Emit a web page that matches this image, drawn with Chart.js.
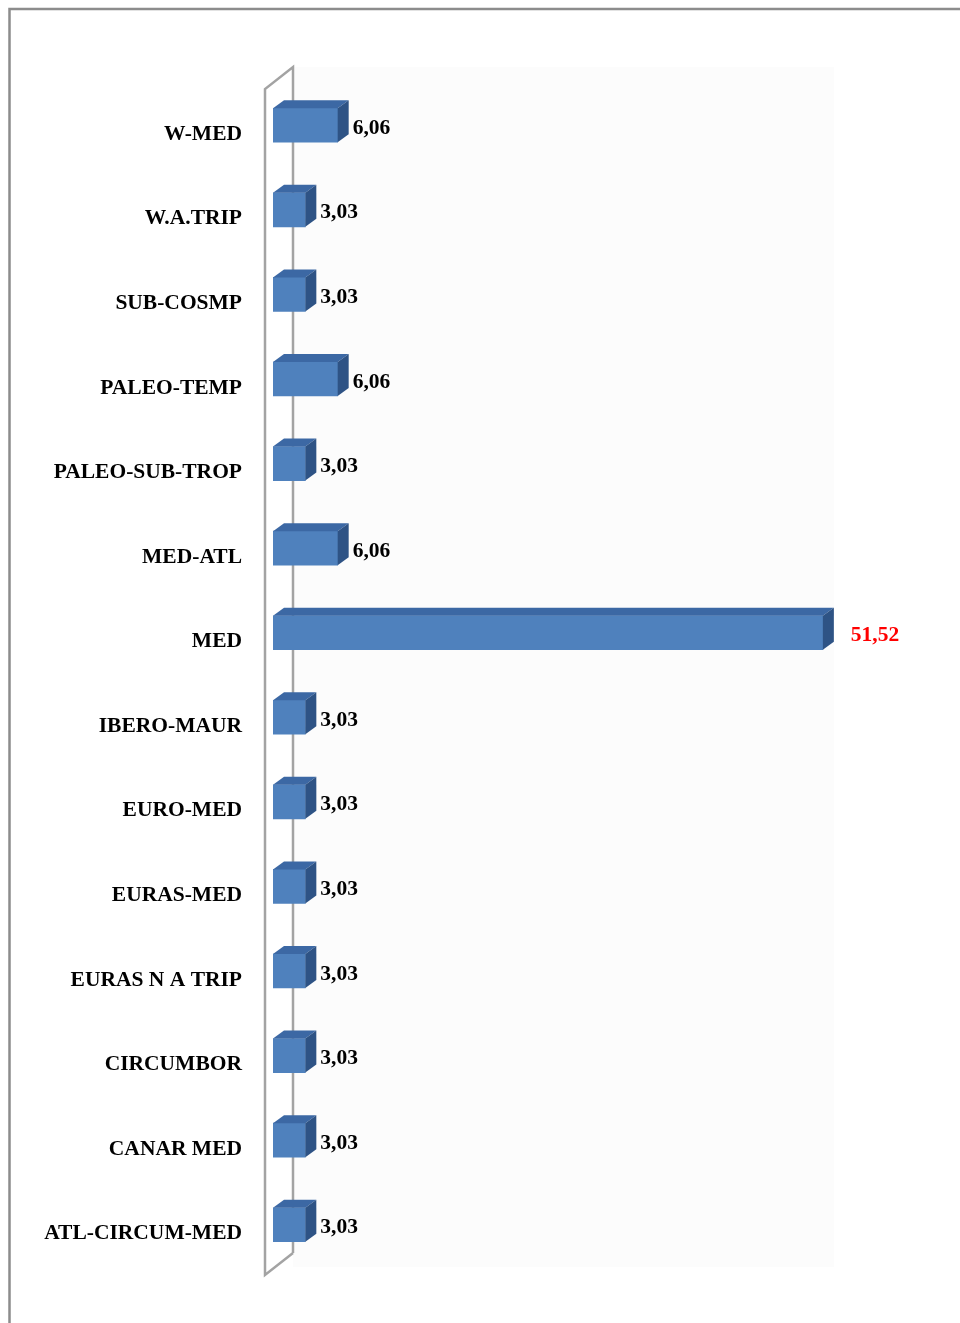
<!DOCTYPE html>
<html>
<head>
<meta charset="utf-8">
<script src="https://cdn.jsdelivr.net/npm/chart.js@4.4.1/dist/chart.umd.min.js"></script>
<style>
  html, body { margin: 0; padding: 0; background: #fff; }
  #wrap { width: 960px; height: 1323px; position: relative; }
</style>
</head>
<body>
<div id="wrap"><canvas id="grafico" width="960" height="1323"></canvas></div>
<script>
// Datos del gráfico
const categorias = [
  "W-MED", "W.A.TRIP", "SUB-COSMP", "PALEO-TEMP", "PALEO-SUB-TROP",
  "MED-ATL", "MED", "IBERO-MAUR", "EURO-MED", "EURAS-MED",
  "EURAS N A TRIP", "CIRCUMBOR", "CANAR MED", "ATL-CIRCUM-MED"
];
const valores = [6.06, 3.03, 3.03, 6.06, 3.03, 6.06, 51.52, 3.03, 3.03, 3.03, 3.03, 3.03, 3.03, 3.03];
const destacado = ["MED"]; // etiqueta en rojo

const COLOR_FRENTE = "#4F81BD";
const COLOR_TECHO = "#3C68A4";
const COLOR_LADO = "#2E5385";
const PROF_X = 11, PROF_Y = 8;
const FUENTE = "'Liberation Serif', 'Times New Roman', serif";

const fmt = v => v.toFixed(2).replace(".", ",");

// Marco, fondo y pared 3D
const fondo = {
  id: "fondo",
  beforeDraw(chart) {
    const { ctx, chartArea: a } = chart;
    ctx.save();
    ctx.fillStyle = "#fff";
    ctx.fillRect(0, 0, chart.width, chart.height);
    // fondo muy claro del área de trazado
    ctx.fillStyle = "#fcfcfc";
    ctx.fillRect(a.left + 20, a.top - 16, 541, a.bottom - a.top + 16);
    // marco gris superior e izquierdo
    ctx.strokeStyle = "#8c8c8c";
    ctx.lineWidth = 2.5;
    ctx.beginPath();
    ctx.moveTo(9.5, chart.height);
    ctx.lineTo(9.5, 9);
    ctx.lineTo(chart.width, 9);
    ctx.stroke();
    ctx.restore();
  },
  beforeDatasetsDraw(chart) {
    const { ctx, chartArea: a } = chart;
    const xf = a.left - 8, xb = a.left + 20;
    const yt = a.top + 6, yb = a.bottom + 8;
    ctx.save();
    ctx.strokeStyle = "#a3a3a3";
    ctx.lineWidth = 2.5;
    ctx.beginPath();
    ctx.moveTo(xb, yb - 22);
    ctx.lineTo(xb, yt - 22);
    ctx.lineTo(xf, yt);
    ctx.lineTo(xf, yb);
    ctx.lineTo(xb, yb - 22);
    ctx.stroke();
    ctx.restore();
  }
};

// Caras 3D y etiquetas de valor
const barras3d = {
  id: "barras3d",
  afterDatasetsDraw(chart) {
    const { ctx } = chart;
    const meta = chart.getDatasetMeta(0);
    ctx.save();
    meta.data.forEach((bar, i) => {
      const top = bar.y - bar.height / 2, bot = bar.y + bar.height / 2;
      const x0 = bar.base, x1 = bar.x;
      // techo
      ctx.fillStyle = COLOR_TECHO;
      ctx.beginPath();
      ctx.moveTo(x0, top);
      ctx.lineTo(x0 + PROF_X, top - PROF_Y);
      ctx.lineTo(x1 + PROF_X, top - PROF_Y);
      ctx.lineTo(x1, top);
      ctx.closePath();
      ctx.fill();
      // lado
      ctx.fillStyle = COLOR_LADO;
      ctx.beginPath();
      ctx.moveTo(x1, top);
      ctx.lineTo(x1 + PROF_X, top - PROF_Y);
      ctx.lineTo(x1 + PROF_X, bot - PROF_Y);
      ctx.lineTo(x1, bot);
      ctx.closePath();
      ctx.fill();
      // etiqueta
      const rojo = destacado.includes(categorias[i]);
      ctx.fillStyle = rojo ? "#FF0000" : "#000";
      ctx.font = "bold 21.5px " + FUENTE;
      ctx.textAlign = "left";
      ctx.textBaseline = "middle";
      ctx.fillText(fmt(valores[i]), x1 + PROF_X + 4 + (rojo ? 13 : 0), bar.y + 3);
    });
    ctx.restore();
  }
};

new Chart(document.getElementById("grafico").getContext("2d"), {
  type: "bar",
  data: {
    labels: categorias,
    datasets: [{
      data: valores,
      backgroundColor: COLOR_FRENTE,
      borderWidth: 0,
      barThickness: 34
    }]
  },
  options: {
    indexAxis: "y",
    responsive: false,
    animation: false,
    layout: { padding: { top: 83, bottom: 56, left: 0, right: 100 } },
    plugins: { legend: { display: false }, tooltip: { enabled: false } },
    scales: {
      x: { display: false, min: 0, max: 55 },
      y: {
        grid: { display: false },
        border: { display: false },
        ticks: {
          padding: 23,
          labelOffset: 9,
          color: "#000",
          font: { family: FUENTE, size: 21.5, weight: "bold" }
        },
        afterFit(scale) { scale.width = 273; }
      }
    }
  },
  plugins: [fondo, barras3d]
});
</script>
</body>
</html>
